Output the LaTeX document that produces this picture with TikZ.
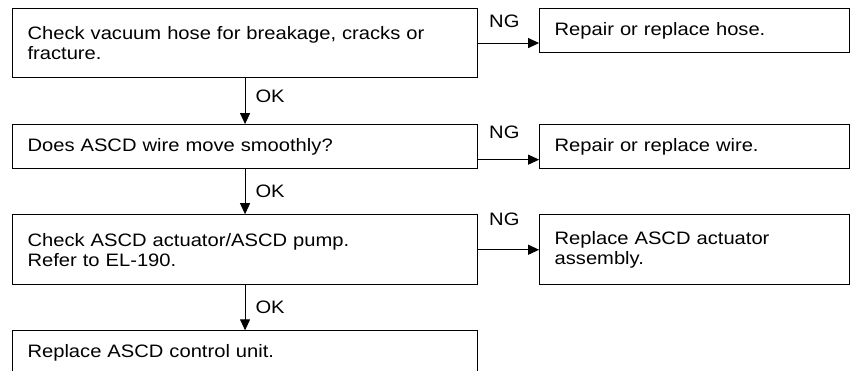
\documentclass[tikz,border=0pt]{standalone}
\usepackage{fontspec}
\setmainfont[FakeStretch=1.12]{Liberation Sans}
\usetikzlibrary{arrows.meta, positioning}

\begin{document}
\begin{tikzpicture}[
    node distance=45pt and 61pt,
    check/.style={rectangle, draw, line width=1.1pt, text width=435pt, inner xsep=15pt, inner ysep=0pt, align=left, font=\fontsize{18pt}{20pt}\selectfont},
    fix/.style={check, text width=280pt, minimum height=44pt},
    line/.style={draw, -{Triangle[length=11pt,width=10pt]}, line width=1pt},
    tag/.style={inner sep=0pt, font=\fontsize{18pt}{20pt}\selectfont}
]
\useasboundingbox (0,0) rectangle (853pt,-371pt);

\node [check, minimum height=69pt, anchor=north west] (hose) at (12pt,-8pt) {Check vacuum hose for breakage, cracks or\\fracture.};
\node [check, minimum height=44pt, below=46pt of hose] (wire) {Does ASCD wire move smoothly?};
\node [check, minimum height=70pt, below=of wire] (pump) {Check ASCD actuator/ASCD pump.\\Refer to EL-190.};
\node [check, minimum height=43pt, below=of pump] (unit) {Replace ASCD control unit.};

\node [fix, right=of hose.north east, anchor=north west] (hosefix) {Repair or replace hose.};
\node [fix, right=of wire.north east, anchor=north west] (wirefix) {Repair or replace wire.};
\node [fix, right=of pump.north east, anchor=north west, minimum height=70pt] (pumpfix) {Replace ASCD actuator\\assembly.};

\path [line] (hose) -- node[tag, right=10pt, pos=0.4] {OK} (wire);
\path [line] (wire) -- node[tag, right=10pt, pos=0.5] {OK} (pump);
\path [line] (pump) -- node[tag, right=10pt, pos=0.5] {OK} (unit);

\coordinate (wireout) at ([yshift=-13pt]wire.east);
\path [line] (hose) -- node[tag, above=15pt, pos=0.43] {NG} (hose -| hosefix.west);
\path [line] (wireout) -- node[tag, above=20pt, pos=0.43] {NG} (wireout -| wirefix.west);
\path [line] (pump) -- node[tag, above=24pt, pos=0.43] {NG} (pump -| pumpfix.west);
\end{tikzpicture}
\end{document}
